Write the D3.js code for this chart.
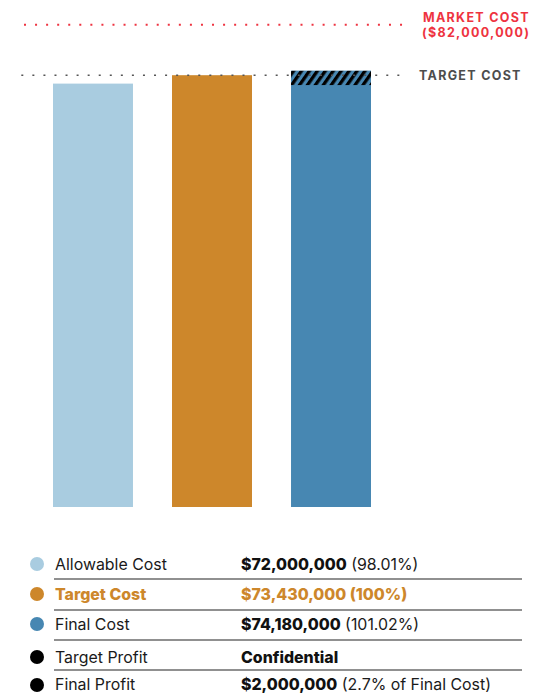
<!DOCTYPE html>
<html>
<head>
<meta charset="utf-8">
<script src="https://cdn.jsdelivr.net/npm/d3@7"></script>
<style>
  html, body { margin: 0; padding: 0; background: #fff; }
  svg { display: block; font-family: Inter, "Noto Sans", sans-serif; }
</style>
</head>
<body>
<div id="chart"></div>
<script>
// ---- data (values in millions of dollars) ----
const categories = ["Allowable Cost", "Target Cost", "Final Cost"];
const costValues = [72.0, 73.43, 74.18];
const barColors = ["#a9cce0", "#cd872b", "#4787b2"];
const marketCost = 82.0;
const targetCost = 73.43;
// hatched overrun segment on the final-cost bar
const hatchRange = [71.75, 74.18];

const legendLabels = ["Allowable Cost", "Target Cost", "Final Cost", "Target Profit", "Final Profit"];
const legendValues = ["$72,000,000", "$73,430,000 (100%)", "$74,180,000", "Confidential", "$2,000,000"];
const legendNotes = [" (98.01%)", "", " (101.02%)", "", " (2.7% of Final Cost)"];
const legendColors = ["#a9cce0", "#cd872b", "#4787b2", "#000000", "#000000"];
const highlightRow = 1;

const topLabels = { market: ["MARKET COST", "($82,000,000)"], target: "TARGET COST" };

// ---- layout ----
const W = 537, H = 695;
const svg = d3.select("#chart").append("svg").attr("width", W).attr("height", H);

const x = d3.scaleBand().domain(categories).range([53, 371]).paddingInner(0.328).paddingOuter(0);
const y = d3.scaleLinear().domain([0, marketCost]).range([507, 24.8]);

const defs = svg.append("defs");
const pat = defs.append("pattern")
  .attr("id", "hatch").attr("patternUnits", "userSpaceOnUse")
  .attr("width", 6.5).attr("height", 6.5)
  .attr("patternTransform", "rotate(35)");
pat.append("rect").attr("width", 6.5).attr("height", 6.5).attr("fill", barColors[2]);
pat.append("rect").attr("width", 3.3).attr("height", 6.5).attr("fill", "#000");

// bars
svg.append("g").selectAll("rect").data(categories).join("rect")
  .attr("x", d => x(d))
  .attr("width", x.bandwidth())
  .attr("y", (d, i) => y(costValues[i]))
  .attr("height", (d, i) => y(0) - y(costValues[i]))
  .attr("fill", (d, i) => barColors[i]);

// hatched segment
svg.append("rect")
  .attr("x", x(categories[2]))
  .attr("width", x.bandwidth())
  .attr("y", y(hatchRange[1]))
  .attr("height", y(hatchRange[0]) - y(hatchRange[1]))
  .attr("fill", "url(#hatch)");

// reference lines
svg.append("line")
  .attr("x1", 24).attr("x2", 404)
  .attr("y1", y(marketCost)).attr("y2", y(marketCost))
  .attr("stroke", "#ee3340").attr("stroke-width", 2)
  .attr("stroke-dasharray", "2 9.06");
svg.append("line")
  .attr("x1", 21.3).attr("x2", 401)
  .attr("y1", y(targetCost)).attr("y2", y(targetCost))
  .attr("stroke", "#555").attr("stroke-width", 1.6)
  .attr("stroke-dasharray", "2 9.06");

// top labels
const lab = svg.append("g").attr("font-weight", 700).attr("font-size", 12.5).attr("letter-spacing", 1.3);
lab.append("text").attr("x", 423).attr("y", 22).attr("fill", "#ee3340").text(topLabels.market[0]);
lab.append("text").attr("x", 422).attr("y", 37).attr("fill", "#ee3340").text(topLabels.market[1]);
lab.append("text").attr("x", 419).attr("y", 80).attr("fill", "#4d4d4d").text(topLabels.target);

// legend table
const rowBase = [570, 600, 630, 663, 690];
const rowDot = [564, 594, 624, 657, 685];
const sepY = [579, 610, 640, 670];

const leg = svg.append("g").attr("font-size", 15.9);
legendLabels.forEach((lbl, i) => {
  const hl = i === highlightRow;
  leg.append("circle").attr("cx", 37).attr("cy", rowDot[i]).attr("r", 7)
    .attr("fill", legendColors[i]);
  leg.append("text").attr("x", 55).attr("y", rowBase[i])
    .attr("fill", hl ? legendColors[i] : "#1a1a1a")
    .attr("font-weight", hl ? 800 : 400)
    .text(lbl);
  const t = leg.append("text").attr("x", 241).attr("y", rowBase[i])
    .attr("fill", hl ? legendColors[i] : "#111");
  t.append("tspan").attr("font-weight", 800).text(legendValues[i]);
  if (legendNotes[i]) t.append("tspan").attr("font-weight", 400).attr("fill", "#1a1a1a").text(legendNotes[i]);
});
sepY.forEach(s => {
  leg.append("line").attr("x1", 54).attr("x2", 522).attr("y1", s).attr("y2", s)
    .attr("stroke", "#222").attr("stroke-width", 1.2);
});
</script>
</body>
</html>
